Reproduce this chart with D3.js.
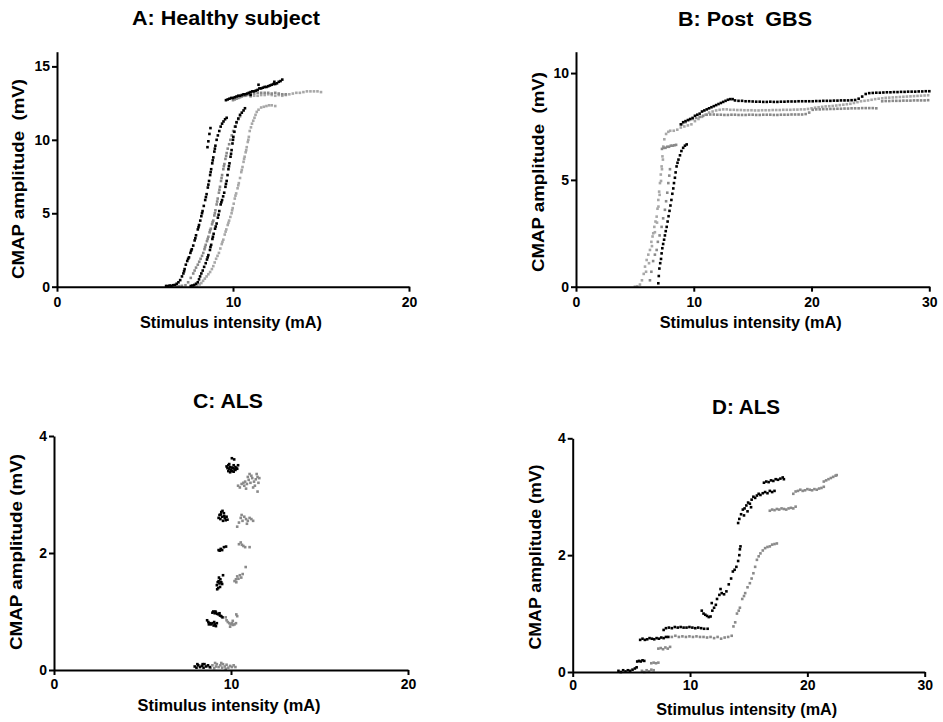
<!DOCTYPE html>
<html>
<head>
<meta charset="utf-8">
<script src="https://cdn.jsdelivr.net/npm/d3@7"></script>
<style>
  html, body { margin: 0; padding: 0; background: #fff; }
  svg { display: block; }
  text { font-family: "Liberation Sans", Arial, Helvetica, sans-serif; font-weight: bold; fill: #000; white-space: pre; }
</style>
</head>
<body>
<svg id="chart" width="943" height="722"></svg>
<script>
// ---- Panel A: healthy subject (stimulus mA, CMAP mV) ----
const aBlackLeft = [
  [6.2,0.05],[6.3,0.04],[6.4,0.08],[6.5,0.06],[6.6,0.1],[6.7,0.12],[6.8,0.2],[6.9,0.3],[7.0,0.45],[7.1,0.7],
  [7.18,0.9],[7.25,1.2],[7.32,1.5],[7.4,1.75],[7.5,2.0],[7.58,2.3],[7.66,2.55],[7.74,2.8],[7.82,3.15],[7.9,3.5],
  [8.0,3.9],[8.07,4.2],[8.14,4.5],[8.2,4.8],[8.27,5.15],[8.34,5.5],[8.42,5.9],[8.5,6.3],[8.57,6.75],[8.64,7.2],
  [8.7,7.6],[8.76,8.0],[8.82,8.4],[8.88,8.8],[8.94,9.2],[9.0,9.6],[9.07,10.0],[9.14,10.3],[9.22,10.6],[9.3,10.9],
  [9.38,11.1],[9.46,11.25],[9.55,11.4],[9.64,11.5],[8.6,9.9],[8.66,10.4],[8.55,9.5],[8.72,10.8],
  [7.22,1.05],[7.45,1.9],[7.62,2.45],[7.86,3.3],[8.04,4.05],[8.24,5.0],[8.46,6.1],[8.6,6.95],[8.73,7.8],[8.85,8.6],[8.97,9.4]
];
const aBlackMid = [
  [7.6,0.05],[7.7,0.08],[7.8,0.12],[7.9,0.2],[8.0,0.3],[8.07,0.5],[8.13,0.7],[8.2,0.9],[8.28,1.1],[8.36,1.35],
  [8.45,1.6],[8.52,1.85],[8.6,2.15],[8.69,2.5],[8.76,2.85],[8.83,3.25],[8.9,3.6],[8.98,3.95],[9.07,4.3],[9.14,4.7],
  [9.22,5.15],[9.3,5.6],[9.38,5.9],[9.44,6.15],[9.5,6.4],[9.57,6.8],[9.64,7.2],[9.69,7.6],[9.74,8.0],[9.8,8.4],
  [9.86,8.85],[9.92,9.3],[9.97,9.75],[10.02,10.2],[10.08,10.55],[10.14,10.9],[10.2,11.2],[10.3,11.45],[10.4,11.7],
  [10.5,11.85],[10.6,12.0],[10.68,12.15],
  [8.56,2.0],[8.72,2.7],[8.86,3.4],[9.02,4.1],[9.18,4.9],[9.34,5.75],[9.6,7.0],[9.77,8.2],[9.89,9.05],[10.0,10.0]
];
const aBlackTop = [
  [9.6,12.7],[9.7,12.75],[9.8,12.8],[9.9,12.85],[10.0,12.85],[10.1,12.9],[10.2,12.95],[10.3,13.0],[10.4,13.0],
  [10.5,13.05],[10.6,13.1],[10.7,13.1],[10.8,13.15],[10.9,13.2],[11.0,13.25],[11.1,13.3],[11.2,13.3],[11.3,13.35],
  [11.4,13.4],[11.5,13.5],[11.6,13.5],[11.7,13.55],[11.8,13.6],[11.9,13.6],[12.0,13.65],[12.1,13.7],[12.2,13.75],
  [12.3,13.8],[12.4,13.8],[12.5,13.85],[12.6,13.95],[12.7,14.0],[12.8,14.1],[11.45,13.75],[11.0,13.05],[12.35,13.95]
];
const aGrayMid = [
  [6.8,0.02],[6.95,0.04],[7.1,0.06],[7.3,0.1],[7.45,0.3],[7.6,0.6],[7.74,0.9],[7.82,1.1],[7.9,1.3],[8.0,1.5],
  [8.08,1.7],[8.16,1.9],[8.24,2.1],[8.31,2.3],[8.38,2.55],[8.45,2.85],[8.52,3.1],[8.6,3.4],[8.67,3.7],[8.74,3.95],
  [8.81,4.25],[8.88,4.5],[8.94,4.85],[9.0,5.2],[9.07,5.6],[9.13,6.0],[9.2,6.4],[9.26,6.8],[9.32,7.2],[9.38,7.6],
  [9.45,8.0],[9.51,8.35],[9.57,8.7],[9.64,9.1],[9.7,9.4],[9.78,9.7],[9.85,10.0],[9.93,10.3],[10.01,10.6],
  [10.1,10.9],[10.2,11.15],[10.3,11.4],[10.4,11.6],
  [8.41,2.7],[8.56,3.25],[8.7,3.85],[8.84,4.4],[8.97,5.0],[9.1,5.8],[9.23,6.6],[9.35,7.4],[9.48,8.2],[9.61,8.9]
];
const aGrayMidTop = [
  [10.0,12.7],[10.1,12.75],[10.2,12.8],[10.3,12.85],[10.4,12.9],[10.5,12.95],[10.6,13.0],[10.7,13.0],[10.8,13.05],
  [10.9,13.1],[11.0,13.1],[11.2,13.15],[11.4,13.2],[11.6,13.2],[11.8,13.2],[12.0,13.2],[12.2,13.15],[12.4,13.2],
  [12.6,13.15],[12.8,13.1],[13.0,13.1]
];
const aGrayRight = [
  [7.8,0.05],[7.95,0.08],[8.1,0.15],[8.2,0.25],[8.3,0.4],[8.4,0.55],[8.5,0.7],[8.6,0.85],[8.7,1.0],[8.8,1.2],
  [8.88,1.4],[8.96,1.65],[9.04,1.9],[9.12,2.1],[9.2,2.3],[9.28,2.6],[9.36,2.9],[9.45,3.2],[9.53,3.55],[9.62,3.9],
  [9.7,4.2],[9.78,4.5],[9.85,4.75],[9.92,5.0],[9.98,5.35],[10.04,5.65],[10.1,6.0],[10.18,6.35],[10.26,6.7],
  [10.33,7.05],[10.4,7.4],[10.47,7.8],[10.54,8.15],[10.6,8.5],[10.66,8.85],[10.72,9.15],[10.78,9.5],[10.84,9.85],
  [10.9,10.2],[10.95,10.6],[11.02,10.85],[11.08,11.1],[11.15,11.3],[11.22,11.5],[11.28,11.7],[11.35,11.9],
  [11.45,12.05],[11.6,12.2],[11.75,12.25],[11.9,12.3],[12.05,12.35],[12.2,12.35],[12.4,12.3],
  [9.4,3.05],[9.58,3.75],[9.74,4.35],[9.95,5.2],[10.14,6.2],[10.3,6.9],[10.5,7.95],[10.63,8.7],[10.75,9.3],[10.87,10.0]
];
const aGrayRightTop = [
  [11.0,12.95],[11.2,13.0],[11.4,13.0],[11.6,13.05],[11.8,13.05],[12.0,13.1],[12.2,13.05],[12.4,13.0],[12.6,13.05],
  [12.8,13.0],[13.0,13.05],[13.2,13.1],[13.4,13.15],[13.6,13.2],[13.8,13.2],[14.0,13.25],[14.2,13.3],[14.4,13.3],
  [14.6,13.3],[14.8,13.3],[15.0,13.25]
];

// ---- Panel B: post GBS ----
const bBlack = [
  [6.99,0.16],[7.03,0.5],[7.08,0.85],[7.15,1.1],[7.22,1.3],[7.27,1.56],[7.33,1.8],[7.4,2.0],[7.48,2.2],[7.55,2.4],
  [7.62,2.6],[7.7,2.8],[7.78,3.05],[7.86,3.3],[7.94,3.55],[8.02,3.8],[8.1,4.06],[8.18,4.35],[8.26,4.6],[8.32,4.85],
  [8.4,5.1],[8.46,5.35],[8.54,5.63],[8.62,5.8],[8.7,5.95],[8.83,6.15],[8.95,6.35],[9.1,6.5],[9.25,6.6],[9.4,6.66]
];
const bBlackTop = [
  [8.9,7.6],[9.1,7.7],[9.3,7.75],[9.5,7.8],[9.7,7.85],[9.9,7.9],[10.1,8.0],[10.3,8.05],[10.5,8.1],[10.7,8.2],
  [10.9,8.25],[11.1,8.3],[11.3,8.35],[11.5,8.4],[11.7,8.45],[11.9,8.5],[12.1,8.55],[12.3,8.6],[12.5,8.65],
  [12.7,8.7],[12.9,8.75],[13.1,8.78],[13.3,8.78],[13.5,8.72],[13.8,8.7],[14.1,8.7],[14.4,8.68],[14.7,8.68],
  [15.0,8.67],[15.3,8.66],[15.6,8.66],[15.9,8.65],[16.2,8.65],[16.5,8.66],[16.8,8.65],[17.1,8.65],[17.4,8.66],
  [17.7,8.66],[18.0,8.67],[18.3,8.67],[18.6,8.67],[18.9,8.68],[19.2,8.68],[19.5,8.68],[19.8,8.68],[20.1,8.68],
  [20.4,8.69],[20.7,8.69],[21.0,8.7],[21.3,8.7],[21.6,8.7],[21.9,8.71],[22.2,8.71],[22.5,8.72],[22.8,8.72],
  [23.1,8.72],[23.4,8.73],[23.7,8.74],[24.0,8.8],[24.3,8.9],[24.6,9.02],[24.9,9.06],[25.2,9.07],[25.5,9.08],
  [25.8,9.08],[26.1,9.09],[26.4,9.1],[26.7,9.1],[27.0,9.11],[27.3,9.11],[27.6,9.12],[27.9,9.12],[28.2,9.13],
  [28.5,9.13],[28.8,9.13],[29.1,9.14],[29.4,9.14],[29.7,9.15],[30.0,9.15]
];
const bGrayLight = [
  [5.0,0.0],[5.2,0.02],[5.43,0.1],[5.6,0.3],[5.75,0.6],[5.86,0.94],[6.0,1.25],[6.14,1.5],[6.28,1.72],[6.4,2.1],
  [6.5,2.35],[6.56,2.5],[6.65,2.8],[6.75,3.05],[6.85,3.28],[6.92,3.65],[6.99,4.06],[7.06,4.45],[7.13,4.85],
  [7.2,5.25],[7.27,5.63],[7.34,6.1],[7.41,6.56],[7.5,6.9],[7.65,7.15],[7.84,7.25],[8.0,7.3],[8.3,7.3],[8.6,7.35],
  [8.9,7.45],[9.2,7.5],[9.5,7.55],[9.8,7.6],[10.1,7.75],[10.4,7.85],[10.7,7.95],[11.0,8.05],[11.3,8.15],
  [11.6,8.2],[11.9,8.25],[12.2,8.28],[12.5,8.3],[12.8,8.3],[13.1,8.28],[13.4,8.28],[13.7,8.27],[14.0,8.27],
  [14.3,8.26],[14.6,8.26],[14.9,8.26],[15.2,8.25],[15.5,8.25],[15.8,8.26],[16.1,8.26],[16.4,8.26],[16.7,8.27],
  [17.0,8.27],[17.3,8.27],[17.6,8.28],[17.9,8.28],[18.2,8.28],[18.5,8.29],[18.8,8.29],[19.1,8.3],[19.4,8.3],
  [19.7,8.32],[20.0,8.35],[20.3,8.38],[20.6,8.4],[20.9,8.42],[21.2,8.44],[21.5,8.45],[21.8,8.46],[22.1,8.48],
  [22.4,8.5],[22.7,8.52],[23.0,8.54],[23.3,8.56],[23.6,8.6],[23.9,8.64],[24.2,8.68],[24.5,8.7],[24.8,8.72],
  [25.1,8.75],[25.4,8.78],[25.7,8.8],[26.0,8.82],[26.3,8.84],[26.6,8.85],[26.9,8.86],[27.2,8.87],[27.5,8.88],
  [27.8,8.89],[28.1,8.9],[28.4,8.91],[28.7,8.92],[29.0,8.93],[29.3,8.94],[29.6,8.95],[29.9,8.96],
  [5.95,0.7],[6.2,1.1],[6.45,1.9],[6.7,2.55],[6.88,3.0],[7.0,3.75],[7.1,4.3],[7.22,4.95],[7.3,5.5],[7.38,5.95]
];
const bGrayDark = [
  [6.28,0.3],[6.4,0.7],[6.55,1.2],[6.7,1.5],[6.85,1.72],[6.95,2.1],[7.1,2.4],[7.27,2.8],[7.4,3.2],[7.55,3.6],
  [7.65,4.0],[7.75,4.4],[7.84,4.85],[7.92,5.2],[7.98,5.5],[7.3,6.45],[7.45,6.5],[7.6,6.5],[7.75,6.55],
  [7.9,6.55],[8.05,6.6],[8.2,6.6],[8.35,6.62],[8.5,6.64],[9.0,7.6],[9.3,7.7],[9.6,7.8],[9.9,7.85],[10.2,7.9],
  [10.5,7.95],[10.8,8.0],[11.1,8.05],[11.4,8.06],[11.7,8.06],[12.0,8.05],[12.3,8.05],[12.6,8.04],[12.9,8.04],
  [13.2,8.05],[13.5,8.05],[13.8,8.04],[14.1,8.04],[14.4,8.04],[14.7,8.05],[15.0,8.05],[15.3,8.04],[15.6,8.04],
  [15.9,8.05],[16.2,8.05],[16.5,8.05],[16.8,8.04],[17.1,8.04],[17.4,8.05],[17.7,8.05],[18.0,8.05],[18.3,8.06],
  [18.6,8.06],[18.9,8.06],[19.2,8.06],[19.5,8.08],[19.8,8.15],[20.1,8.28],[20.4,8.3],[20.7,8.3],[21.0,8.31],
  [21.3,8.31],[21.6,8.32],[21.9,8.32],[22.2,8.33],[22.5,8.33],[22.8,8.34],[23.1,8.34],[23.4,8.35],[23.7,8.35],
  [24.0,8.35],[24.3,8.36],[24.6,8.36],[24.9,8.36],[25.2,8.36],[25.5,8.35],[26.0,8.68],[26.3,8.69],[26.6,8.69],
  [26.9,8.7],[27.2,8.7],[27.5,8.7],[27.8,8.71],[28.1,8.71],[28.4,8.71],[28.7,8.72],[29.0,8.72],[29.3,8.72],
  [29.6,8.72],[29.9,8.73]
];

// ---- Panel C: ALS (stepwise recruitment) ----
const cBlack = [
  [7.95,0.06],[8.05,0.04],[8.15,0.08],[8.25,0.05],[8.35,0.07],[8.45,0.04],[8.5,0.1],[8.6,0.06],[8.7,0.08],
  [8.8,0.05],[8.1,0.1],[8.4,0.1],
  [8.65,0.85],[8.72,0.82],[8.8,0.8],[8.88,0.78],[8.95,0.8],[9.02,0.76],[9.1,0.78],[9.2,0.8],[8.75,0.78],
  [9.05,0.82],[9.15,0.75],
  [8.95,0.98],[9.0,1.0],[9.08,0.97],[9.15,0.98],[9.22,0.96],[9.3,0.95],[9.38,0.93],[9.45,0.92],[9.52,0.9],
  [9.12,1.0],[9.35,0.97],
  [9.2,1.45],[9.25,1.5],[9.3,1.52],[9.35,1.48],[9.4,1.55],[9.45,1.5],[9.28,1.4],[9.38,1.42],[9.22,1.38],
  [9.5,1.47],[9.55,1.62],[9.32,1.58],
  [9.3,2.05],[9.36,2.04],[9.42,2.07],[9.5,2.05],[9.6,2.1],[9.72,2.11],
  [9.3,2.6],[9.35,2.65],[9.4,2.58],[9.45,2.7],[9.5,2.62],[9.55,2.55],[9.6,2.68],[9.65,2.6],[9.7,2.56],
  [9.42,2.66],[9.52,2.72],[9.62,2.63],[9.8,2.57],[9.75,2.62],
  [9.75,3.48],[9.8,3.45],[9.85,3.5],[9.9,3.44],[9.95,3.47],[10.0,3.42],[10.05,3.46],[10.1,3.45],[10.15,3.5],
  [10.2,3.43],[10.25,3.47],[10.3,3.45],[10.35,3.44],[9.85,3.4],[9.95,3.38],[10.05,3.4],[10.15,3.39],
  [10.25,3.42],[10.4,3.5],[9.9,3.52],[10.05,3.62],[10.18,3.6]
];
const cGray = [
  [8.85,0.04],[8.95,0.08],[9.05,0.03],[9.15,0.06],[9.2,0.1],[9.3,0.05],[9.4,0.08],[9.5,0.04],[9.55,0.1],
  [9.65,0.06],[9.75,0.09],[9.85,0.04],[9.95,0.07],[10.05,0.05],[10.15,0.08],[10.25,0.05],[9.1,0.12],
  [9.45,0.12],[9.7,0.02],
  [9.7,0.9],[9.75,0.85],[9.82,0.82],[9.9,0.8],[9.98,0.78],[10.05,0.8],[10.12,0.77],[10.2,0.78],[10.28,0.8],
  [9.95,0.74],[10.1,0.84],[10.3,0.95],[10.35,0.92],
  [10.2,1.52],[10.28,1.55],[10.35,1.6],[10.42,1.56],[10.5,1.62],[10.58,1.58],[10.66,1.64],[10.3,1.5],[10.83,1.76],
  [10.45,2.15],[10.55,2.18],[10.62,2.14],[10.7,2.12],[10.8,2.1],[11.05,2.1],
  [10.35,2.45],[10.45,2.52],[10.55,2.6],[10.65,2.55],[10.75,2.62],[10.85,2.58],[10.95,2.55],[11.05,2.6],
  [11.15,2.58],[11.25,2.55],[10.6,2.65],[10.9,2.5],
  [10.4,3.15],[10.5,3.12],[10.6,3.18],[10.7,3.2],[10.8,3.22],[10.9,3.18],[11.0,3.25],[11.1,3.2],[11.2,3.28],
  [11.3,3.22],[11.4,3.26],[11.5,3.3],[11.55,3.2],[10.75,3.15],[10.95,3.3],[11.15,3.32],[11.35,3.15],
  [11.45,3.35],[11.6,3.28],[10.85,3.1],[11.25,3.12],[11.5,3.05],[11.05,3.35]
];

// ---- Panel D: ALS ----
const dBlack = [
  [3.9,0.02],[4.1,0.0],[4.3,0.03],[4.5,0.01],[4.7,0.03],[4.9,0.02],[5.1,0.04],[5.3,0.06],[5.45,0.08],
  [5.5,0.18],[5.65,0.19],[5.8,0.18],[5.95,0.2],[6.1,0.19],
  [5.75,0.55],[5.95,0.57],[6.15,0.55],[6.35,0.56],[6.55,0.58],[6.75,0.57],[6.95,0.56],[7.15,0.58],[7.35,0.57],
  [7.55,0.59],[7.75,0.58],[7.95,0.6],[8.15,0.6],
  [7.75,0.72],[7.95,0.75],[8.2,0.76],[8.45,0.75],[8.7,0.77],[8.95,0.76],[9.2,0.77],[9.45,0.76],[9.7,0.76],
  [9.95,0.77],[10.2,0.76],[10.45,0.75],[10.7,0.76],[10.95,0.75],[11.2,0.74],[11.5,0.74],
  [11.0,1.05],[11.15,1.0],[11.3,0.98],[11.45,0.96],[11.6,0.94],[11.75,0.95],[11.9,1.05],[12.05,1.1],[12.2,1.15],
  [11.85,1.18],[12.3,1.25],[12.5,1.32],[12.7,1.35],[12.9,1.33],[13.1,1.38],[12.6,1.42],[13.3,1.5],[13.5,1.6],
  [13.65,1.72],[13.8,1.75],[13.95,1.8],[14.1,1.9],[14.2,2.0],[14.25,2.1],[14.3,2.15],
  [14.1,2.55],[14.2,2.62],[14.35,2.7],[14.5,2.78],[14.65,2.8],[14.8,2.85],[14.95,2.9],[15.1,2.88],[15.25,2.95],
  [15.4,3.0],[15.55,2.98],[15.7,3.02],[15.85,3.05],[16.0,3.03],[16.2,3.06],[16.4,3.08],[16.6,3.06],[16.8,3.1],
  [17.0,3.08],[17.2,3.1],[14.6,2.68],[14.9,2.75],[15.2,2.82],
  [16.3,3.24],[16.5,3.26],[16.7,3.25],[16.9,3.28],[17.1,3.27],[17.3,3.3],[17.5,3.29],[17.7,3.31],[17.9,3.33],[18.0,3.3]
];
const dGray = [
  [5.9,0.02],[6.1,0.0],[6.3,0.03],[6.5,0.01],[6.7,0.04],[6.9,0.03],
  [6.7,0.15],[6.9,0.16],[7.1,0.15],[7.3,0.16],
  [7.3,0.4],[7.5,0.41],[7.7,0.39],[7.9,0.42],[8.1,0.4],[8.3,0.43],
  [8.45,0.6],[8.75,0.62],[9.05,0.6],[9.35,0.61],[9.65,0.6],[9.95,0.61],[10.25,0.6],[10.55,0.61],[10.85,0.6],
  [11.15,0.6],[11.45,0.59],[11.75,0.6],[12.05,0.58],[12.35,0.6],[12.65,0.57],[12.95,0.59],[13.25,0.6],[13.55,0.62],
  [13.7,0.78],[13.85,0.85],[14.0,1.0],[14.15,1.05],[14.25,1.1],[14.45,1.25],[14.6,1.3],[14.7,1.35],[14.9,1.45],
  [15.1,1.52],[15.25,1.6],[15.4,1.69],[15.55,1.8],[15.7,1.92],[15.85,1.98],[16.0,2.03],[16.2,2.08],[16.4,2.12],
  [16.6,2.14],[16.8,2.15],[17.0,2.18],[17.2,2.19],[17.4,2.2],
  [16.8,2.76],[17.0,2.78],[17.2,2.77],[17.4,2.79],[17.6,2.78],[17.8,2.8],[18.0,2.79],[18.2,2.78],[18.4,2.8],
  [18.6,2.81],[18.8,2.8],[19.0,2.83],
  [18.8,3.05],[19.0,3.09],[19.2,3.1],[19.4,3.12],[19.6,3.1],[19.8,3.11],[20.0,3.13],[20.2,3.12],[20.4,3.11],
  [20.6,3.13],[20.8,3.12],[21.0,3.14],[21.2,3.15],[21.4,3.17],
  [21.4,3.26],[21.6,3.28],[21.8,3.3],[22.0,3.32],[22.2,3.34],[22.4,3.36],[22.5,3.37]
];

// Axis tick values
const aXTicks = [0, 10, 20], aYTicks = [0, 5, 10, 15];
const bXTicks = [0, 10, 20, 30], bYTicks = [0, 5, 10];
const cXTicks = [0, 10, 20], cYTicks = [0, 2, 4];
const dXTicks = [0, 10, 20, 30], dYTicks = [0, 2, 4];

const BLACK = "#000000", GRAY = "#8a8a8a", LIGHT = "#a8a8a8";

const panels = [
  { title: "A: Healthy subject", titleX: 226, titleY: 25, titleW: 188,
    x0: 57, x1: 409, y0: 286.7, y1: 51.7, xDom: [0, 20], yDom: [0, 16],
    xTicks: aXTicks, yTicks: aYTicks, xPad: 5, yLabel: "CMAP amplitude  (mV)", yLabelX: 24, yLabelY: 179, yLabelW: 200,
    xLabelY: 328, xLabelW: 182,
    series: [
      { data: aGrayRight, color: LIGHT }, { data: aGrayRightTop, color: LIGHT },
      { data: aGrayMid, color: GRAY }, { data: aGrayMidTop, color: GRAY },
      { data: aBlackLeft, color: BLACK }, { data: aBlackMid, color: BLACK }, { data: aBlackTop, color: BLACK }
    ] },
  { title: "B: Post  GBS", titleX: 745, titleY: 26, titleW: 134,
    x0: 576, x1: 929.3, y0: 286.7, y1: 51.7, xDom: [0, 30], yDom: [0, 11],
    xTicks: bXTicks, yTicks: bYTicks, xPad: 5, yLabel: "CMAP amplitude  (mV)", yLabelX: 544, yLabelY: 172, yLabelW: 200,
    xLabelY: 328, xLabelW: 182,
    series: [
      { data: bGrayLight, color: LIGHT }, { data: bGrayDark, color: GRAY },
      { data: bBlack, color: BLACK }, { data: bBlackTop, color: BLACK }
    ] },
  { title: "C: ALS", titleX: 228, titleY: 408, titleW: 70,
    x0: 54, x1: 408, y0: 670, y1: 436, xDom: [0, 20], yDom: [0, 4],
    xTicks: cXTicks, yTicks: cYTicks, xPad: 4, yLabel: "CMAP amplitude (mV)", yLabelX: 22, yLabelY: 552, yLabelW: 196,
    xLabelY: 711, xLabelW: 183,
    series: [ { data: cGray, color: GRAY }, { data: cBlack, color: BLACK } ] },
  { title: "D: ALS", titleX: 746, titleY: 414, titleW: 68,
    x0: 572.7, x1: 924.7, y0: 672, y1: 438.3, xDom: [0, 30], yDom: [0, 4],
    xTicks: dXTicks, yTicks: dYTicks, xPad: 3, yLabel: "CMAP amplitude (mV)", yLabelX: 541, yLabelY: 557, yLabelW: 185,
    xLabelY: 715, xLabelW: 181,
    series: [ { data: dGray, color: GRAY }, { data: dBlack, color: BLACK } ] }
];

const svg = d3.select("#chart");

panels.forEach(p => {
  const x = d3.scaleLinear().domain(p.xDom).range([p.x0, p.x1]);
  const y = d3.scaleLinear().domain(p.yDom).range([p.y0, p.y1]);
  const g = svg.append("g");

  // scatter points
  p.series.forEach(s => {
    g.append("g").selectAll("rect").data(s.data).join("rect")
      .attr("x", d => x(d[0]) - 1.3)
      .attr("y", d => y(d[1]) - 1.3)
      .attr("width", 2.6)
      .attr("height", 2.6)
      .attr("fill", s.color);
  });

  // axes
  const xAxis = g.append("g").attr("transform", `translate(0,${p.y0})`)
    .call(d3.axisBottom(x).tickValues(p.xTicks).tickSize(5).tickSizeOuter(0).tickPadding(p.xPad).tickFormat(d3.format("d")));
  const yAxis = g.append("g").attr("transform", `translate(${p.x0},0)`)
    .call(d3.axisLeft(y).tickValues(p.yTicks).tickSize(5).tickSizeOuter(0).tickPadding(2).tickFormat(d3.format("d")));
  [xAxis, yAxis].forEach(a => {
    a.select(".domain").attr("stroke", "#000").attr("stroke-width", 2);
    a.selectAll(".tick line").attr("stroke", "#000").attr("stroke-width", 2);
    a.selectAll(".tick text").attr("fill", "#000").style("font-size", "14px").style("font-weight", "bold")
      .style("font-family", '"Liberation Sans", Arial, sans-serif');
  });

  // title
  g.append("text").attr("x", p.titleX).attr("y", p.titleY).attr("text-anchor", "middle")
    .attr("textLength", p.titleW).attr("lengthAdjust", "spacingAndGlyphs")
    .style("font-size", "20px").text(p.title);

  // axis labels
  g.append("text").attr("x", (p.x0 + p.x1) / 2 - 2).attr("y", p.xLabelY).attr("text-anchor", "middle")
    .attr("textLength", p.xLabelW).attr("lengthAdjust", "spacingAndGlyphs")
    .style("font-size", "17px").text("Stimulus intensity (mA)");
  g.append("text").attr("transform", `translate(${p.yLabelX},${p.yLabelY}) rotate(-90)`).attr("text-anchor", "middle")
    .attr("textLength", p.yLabelW).attr("lengthAdjust", "spacingAndGlyphs")
    .style("font-size", "17px").text(p.yLabel);
});
</script>
</body>
</html>
